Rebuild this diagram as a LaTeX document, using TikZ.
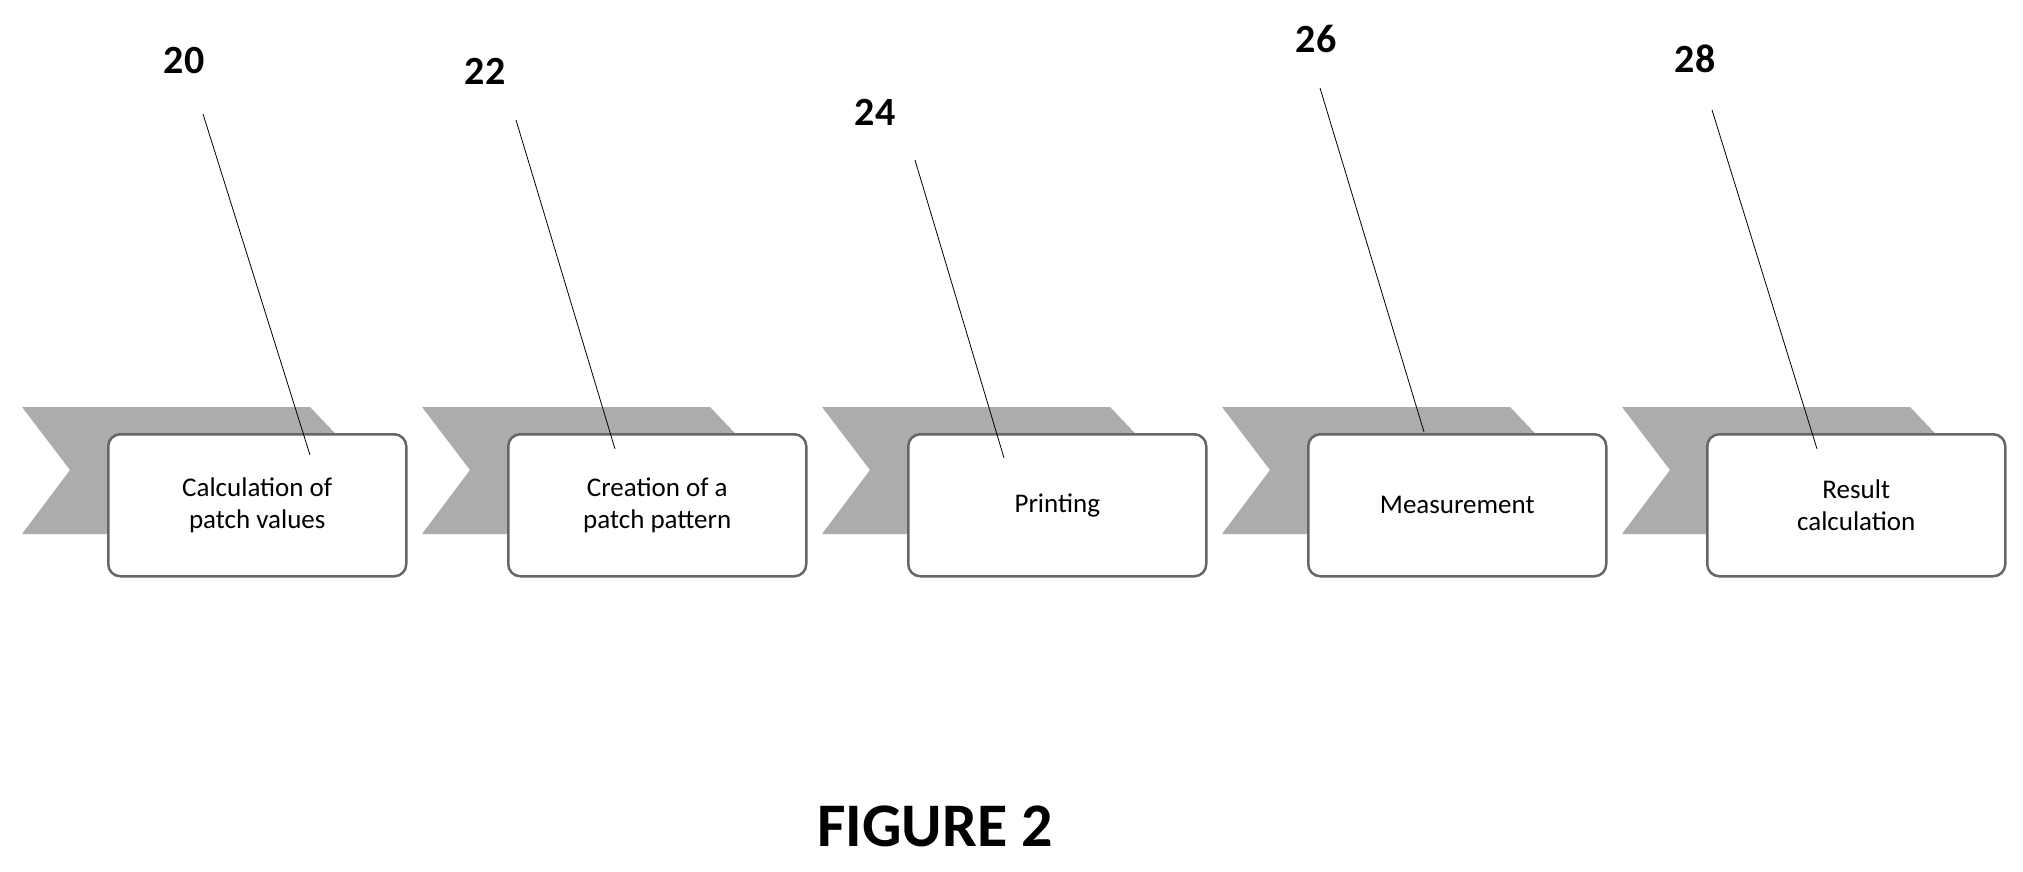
\documentclass[tikz,border=0pt]{standalone}
\usepackage{fontspec}
\setmainfont{Carlito}
\begin{document}
\begin{tikzpicture}[x=1pt,y=-1pt,
  chev/.style={fill=gray!65,draw=none},
  box/.style={draw=gray!80!black,line width=2.5pt,fill=white,rounded corners=12pt,minimum width=298pt,minimum height=142pt,align=center,font=\fontsize{27}{32}\selectfont,anchor=north west,inner sep=0pt},
  num/.style={font=\bfseries\fontsize{40}{44}\selectfont},
  lead/.style={draw=black,line width=0.8pt}]
\useasboundingbox (0,0) rectangle (2023,872);
\foreach \i in {0,...,4}{
  \fill[chev] ({22+400*\i},407) -- ({310+400*\i},407) -- ({370+400*\i},470) -- ({310+400*\i},534) -- ({22+400*\i},534) -- ({70+400*\i},470) -- cycle;
}
\node[box] (b0) at (107,433) {Calculation of\\patch values};
\node[box] (b1) at (507,433) {Creation of a\\patch pattern};
\node[box] (b2) at (907,433) {Printing};
\node[box] (b3) at (1307,433) {Measurement};
\node[box] (b4) at (1706,433) {Result\\calculation};
\node[num] (n0) at (184,61) {20};
\node[num] (n1) at (485,71) {22};
\node[num] (n2) at (875,112) {24};
\node[num] (n3) at (1316,39) {26};
\node[num] (n4) at (1695,59) {28};
\coordinate (p0) at (310,455);
\coordinate (p1) at (615,449);
\coordinate (p2) at (1004,458);
\coordinate (p3) at (1424,432);
\coordinate (p4) at (1817,449);
\draw[lead] (203,114) -- (p0);
\draw[lead] (516,120) -- (p1);
\draw[lead] (915,160) -- (p2);
\draw[lead] (1320,88) -- (p3);
\draw[lead] (1712,110) -- (p4);
\node[font=\bfseries\fontsize{62}{66}\selectfont] (fig) at (935,826) {FIGURE 2};
\end{tikzpicture}
\end{document}
